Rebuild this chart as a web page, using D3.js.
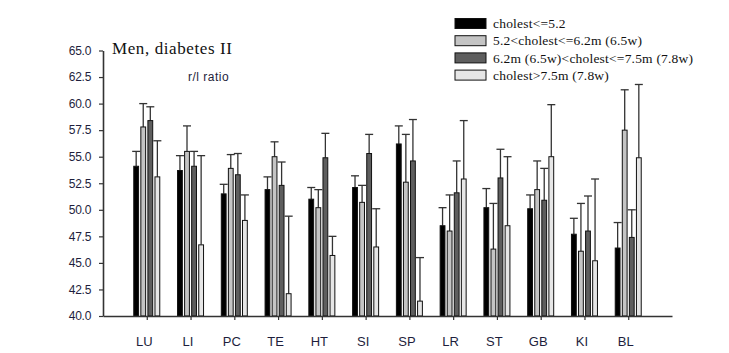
<!DOCTYPE html>
<html>
<head>
<meta charset="utf-8">
<script src="https://cdn.jsdelivr.net/npm/d3@7"></script>
<style>
  body { margin: 0; background: #fff; }
  svg { display: block; }
</style>
</head>
<body>
<div id="chart"></div>
<script>
// categories along x
const sites = ["LU", "LI", "PC", "TE", "HT", "SI", "SP", "LR", "ST", "GB", "KI", "BL"];

const seriesNames = [
    "cholest<=5.2",
    "5.2<cholest<=6.2m (6.5w)",
    "6.2m (6.5w)<cholest<=7.5m (7.8w)",
    "cholest>7.5m (7.8w)"
];
const seriesColors = ["#000000", "#c4c4c4", "#5e5e5e", "#e6e6e6"];

// mean values per series
const mean1 = [54.1, 53.7, 51.5, 51.9, 51.0, 52.1, 56.2, 48.5, 50.2, 50.1, 47.7, 46.4];
const mean2 = [57.8, 55.5, 53.9, 55.0, 50.2, 50.7, 52.6, 48.0, 46.3, 51.9, 46.1, 57.5];
const mean3 = [58.4, 54.1, 53.3, 52.3, 54.9, 55.3, 54.6, 51.6, 53.0, 50.9, 48.0, 47.4];
const mean4 = [53.1, 46.7, 49.0, 42.1, 45.7, 46.5, 41.4, 52.9, 48.5, 55.0, 45.2, 54.9];

// upper ends of error bars
const err1 = [55.5, 55.1, 52.4, 53.1, 52.1, 53.2, 57.9, 50.2, 52.0, 51.4, 49.2, 48.8];
const err2 = [60.0, 57.9, 55.2, 56.4, 51.9, 52.3, 57.1, 51.4, 50.6, 54.6, 50.6, 61.3];
const err3 = [59.7, 55.5, 55.3, 54.5, 57.2, 57.1, 58.5, 54.6, 55.7, 53.9, 51.3, 50.0];
const err4 = [56.5, 55.1, 51.4, 49.4, 47.5, 50.1, 45.5, 58.4, 55.0, 59.9, 52.9, 61.8];

const yTicks = [40, 42.5, 45, 47.5, 50, 52.5, 55, 57.5, 60, 62.5, 65];

const means = [mean1, mean2, mean3, mean4];
const errs = [err1, err2, err3, err4];

const W = 729, H = 353;
const plot = {left: 103, right: 672, top: 50.5, bottom: 316};

const svg = d3.select("#chart").append("svg")
    .attr("width", W)
    .attr("height", H);

const x = d3.scalePoint()
    .domain(sites)
    .range([plot.left, plot.right])
    .padding(1);

const y = d3.scaleLinear()
    .domain([40, 65])
    .range([plot.bottom, plot.top]);

const inner = d3.scaleBand()
    .domain(d3.range(4))
    .range([-13, 13])
    .paddingInner(0.32);

// flatten into one row per bar
const rows = [];
sites.forEach((s, i) => {
    for (let k = 0; k < 4; k++) {
        rows.push({site: s, k: k, v: means[k][i], e: errs[k][i]});
    }
});

// error bars first so bars sit on top of the stem
const eb = svg.append("g")
    .attr("stroke", "#333")
    .attr("stroke-width", 1.3);

eb.selectAll("line.stem")
    .data(rows)
    .enter().append("line")
    .attr("class", "stem")
    .attr("x1", d => x(d.site) + inner(d.k) + inner.bandwidth() / 2)
    .attr("x2", d => x(d.site) + inner(d.k) + inner.bandwidth() / 2)
    .attr("y1", d => y(d.v))
    .attr("y2", d => y(d.e));

eb.selectAll("line.cap")
    .data(rows)
    .enter().append("line")
    .attr("class", "cap")
    .attr("x1", d => x(d.site) + inner(d.k) + inner.bandwidth() / 2 - 4)
    .attr("x2", d => x(d.site) + inner(d.k) + inner.bandwidth() / 2 + 4)
    .attr("y1", d => y(d.e))
    .attr("y2", d => y(d.e));

svg.append("g")
    .selectAll("rect")
    .data(rows)
    .enter().append("rect")
    .attr("x", d => x(d.site) + inner(d.k))
    .attr("y", d => y(d.v))
    .attr("width", inner.bandwidth())
    .attr("height", d => y(40) - y(d.v))
    .attr("fill", d => seriesColors[d.k])
    .attr("stroke", "#111")
    .attr("stroke-width", 1);

// y axis
const yAxis = svg.append("g")
    .attr("transform", `translate(${plot.left},0)`)
    .call(d3.axisLeft(y).tickValues(yTicks).tickFormat(d3.format(".1f")).tickSize(4).tickSizeOuter(0));
yAxis.select(".domain").attr("stroke", "#333").attr("stroke-width", 1.6);
yAxis.selectAll(".tick line").attr("stroke", "#333").attr("stroke-width", 1.2);
yAxis.selectAll(".tick text")
    .attr("x", -12)
    .attr("fill", "#1e1e3c")
    .style("font-family", "Liberation Sans, Arial, sans-serif")
    .style("font-size", "12px")
    .style("letter-spacing", "-0.3px");

// x axis
const xAxis = svg.append("g")
    .attr("transform", `translate(0,${plot.bottom})`)
    .call(d3.axisBottom(x).tickSize(4).tickSizeOuter(0));
xAxis.select(".domain").attr("stroke", "#333").attr("stroke-width", 1.6);
xAxis.selectAll(".tick line").attr("stroke", "#333").attr("stroke-width", 1.2);
xAxis.selectAll(".tick text")
    .attr("y", 21)
    .attr("dx", -3)
    .attr("fill", "#1e1e3c")
    .style("font-family", "Liberation Sans, Arial, sans-serif")
    .style("font-size", "13px");

// title and subtitle
svg.append("text")
    .attr("x", 112)
    .attr("y", 54)
    .style("font-family", "Liberation Serif, Times New Roman, serif")
    .style("font-size", "17px")
    .style("letter-spacing", "0.6px")
    .attr("fill", "#111")
    .text("Men, diabetes II");

svg.append("text")
    .attr("x", 188)
    .attr("y", 81)
    .style("font-family", "Liberation Sans, Arial, sans-serif")
    .style("font-size", "12px")
    .style("letter-spacing", "0.5px")
    .attr("fill", "#1e1e3c")
    .text("r/l ratio");

// legend
const legend = svg.append("g")
    .selectAll("g")
    .data(seriesNames)
    .enter().append("g")
    .attr("transform", (d, i) => `translate(455,${18.5 + i * 17.2})`);

legend.append("rect")
    .attr("width", 31)
    .attr("height", 10)
    .attr("fill", (d, i) => seriesColors[i])
    .attr("stroke", "#111")
    .attr("stroke-width", 1);

legend.append("text")
    .attr("x", 38)
    .attr("y", 5)
    .attr("dy", "0.35em")
    .style("font-family", "Liberation Serif, Times New Roman, serif")
    .style("font-size", "13.5px")
    .style("letter-spacing", "0.2px")
    .attr("fill", "#111")
    .text(d => d);
</script>
</body>
</html>
